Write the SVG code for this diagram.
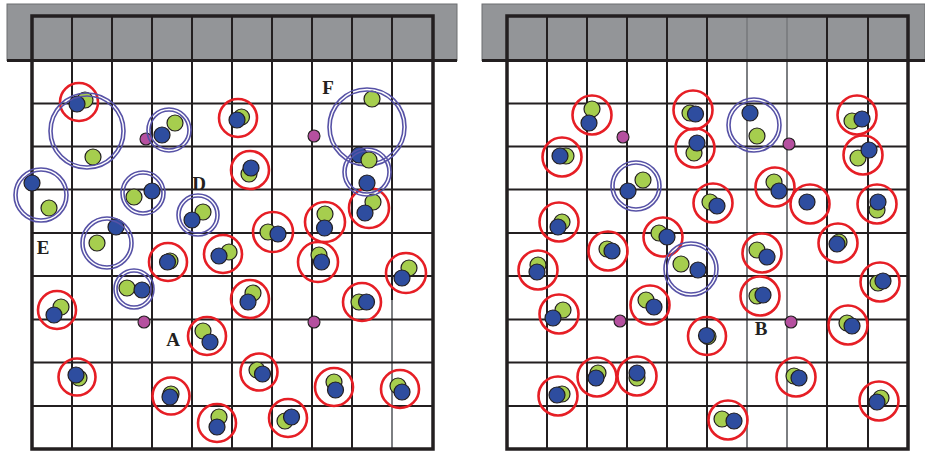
<svg xmlns="http://www.w3.org/2000/svg" width="925" height="451" viewBox="0 0 925 451">
<style>
.bg{fill:#ffffff}
.bar{fill:#939598;stroke:#6d6e71;stroke-width:1}
.grid{stroke:#231f20;stroke-width:2;fill:none}
.lgrid{stroke:#7d7f82;stroke-width:2;fill:none}
.frame{stroke:#231f20;stroke-width:3.5;fill:none}
.g{fill:#a6ce4e;stroke:#231f20;stroke-width:1.2}
.b{fill:#2e4d9f;stroke:#231f20;stroke-width:1.2}
.m{fill:#b5509f;stroke:#231f20;stroke-width:1.1}
.r{fill:none;stroke:#e61e25;stroke-width:2.6}
.d{fill:none;stroke:#5752a6;stroke-width:1.6}
.lbl{font-family:"Liberation Serif","Times New Roman",serif;font-size:19px;font-weight:bold;fill:#231f20;text-anchor:middle}
</style>
<rect class="bg" x="0" y="0" width="925" height="451"/>
<!-- LEFT PANEL -->
<g id="left-panel-grid">
<rect class="bar" x="7" y="4" width="450" height="56.5"/>
<path class="grid" d="M72 16V449M112 16V449M152 16V449M192 16V449M232 16V449M272 16V449M312 16V449M352 16V449"/>
<path class="lgrid" d="M392 300V449"/>
<path class="grid" d="M392 16V300"/>
<path class="grid" d="M32 103.5H433M32 146.5H433M32 189.5H433M32 233H433M32 276H433M32 319.5H433M32 362.5H433M32 406H433"/>
<path class="grid" style="stroke-width:3" d="M7 60.5H457"/>
<rect class="frame" x="32" y="16" width="401" height="433"/>
</g>
<!-- RIGHT PANEL -->
<g id="right-panel-grid">
<rect class="bar" x="482" y="4" width="443" height="56.5"/>
<path class="grid" d="M547 16V449M587 16V449M627 16V449M667 16V449M707 16V449M827 16V449M868 16V449"/>
<path class="lgrid" d="M747 16V449M787 16V449"/>
<path class="grid" d="M507 103.5H908M507 146.5H908M507 189.5H908M507 233H908M507 276H908M507 319.5H908M507 362.5H908M507 406H908"/>
<path class="grid" style="stroke-width:3" d="M482 60.5H925"/>
<rect class="frame" x="507" y="16" width="401" height="433"/>
</g>
<g id="connectors"></g>
<!-- magenta points -->
<g id="magenta-left"><circle class="m" cx="146" cy="139" r="6"/><circle class="m" cx="314" cy="136" r="6"/><circle class="m" cx="144" cy="322" r="6"/><circle class="m" cx="314" cy="322" r="6"/></g>
<g id="magenta-right"><circle class="m" cx="623" cy="137" r="6"/><circle class="m" cx="789" cy="144" r="6"/><circle class="m" cx="620" cy="321" r="6"/><circle class="m" cx="791" cy="322" r="6"/></g>
<!-- left red groups -->
<g id="L1"><circle class="g" cx="85" cy="100" r="8"/><circle class="b" cx="77" cy="104" r="8"/><circle class="r" cx="79" cy="102" r="19"/></g>
<g id="L2"><circle class="g" cx="241.5" cy="117" r="8"/><circle class="b" cx="237" cy="120" r="8"/><circle class="r" cx="238" cy="118" r="19"/></g>
<g id="L3"><circle class="g" cx="249" cy="174" r="8"/><circle class="b" cx="251" cy="168" r="8"/><circle class="r" cx="250" cy="170" r="19"/></g>
<g id="L4"><circle class="g" cx="373" cy="202" r="8"/><circle class="b" cx="365" cy="213" r="8"/><circle class="r" cx="369" cy="208" r="20"/></g>
<g id="L5"><circle class="g" cx="325" cy="214" r="8"/><circle class="b" cx="324.5" cy="228" r="8"/><circle class="r" cx="325" cy="222" r="20"/></g>
<g id="L6"><circle class="g" cx="268" cy="232" r="8"/><circle class="b" cx="278" cy="234" r="8"/><circle class="r" cx="273" cy="232" r="20"/></g>
<g id="L7"><circle class="g" cx="170" cy="261" r="8"/><circle class="b" cx="167.5" cy="262" r="8"/><circle class="r" cx="168" cy="262" r="19"/></g>
<g id="L8"><circle class="g" cx="229" cy="252" r="8"/><circle class="b" cx="219" cy="256" r="8"/><circle class="r" cx="223" cy="254" r="19"/></g>
<g id="L9"><circle class="g" cx="319" cy="255" r="8"/><circle class="b" cx="321.5" cy="262" r="8"/><circle class="r" cx="318" cy="262" r="20"/></g>
<g id="L10"><circle class="g" cx="409" cy="268" r="8"/><circle class="b" cx="402" cy="278" r="8"/><circle class="r" cx="406" cy="273" r="20"/></g>
<g id="L11"><circle class="g" cx="61" cy="307" r="8"/><circle class="b" cx="54" cy="315" r="8"/><circle class="r" cx="57" cy="310" r="19"/></g>
<g id="L12"><circle class="g" cx="253" cy="293" r="8"/><circle class="b" cx="248" cy="302" r="8"/><circle class="r" cx="250" cy="299" r="19"/></g>
<g id="L13"><circle class="g" cx="359" cy="302" r="8"/><circle class="b" cx="366.5" cy="302" r="8"/><circle class="r" cx="362" cy="302" r="19"/></g>
<g id="L14"><circle class="g" cx="203" cy="331" r="8"/><circle class="b" cx="210" cy="342" r="8"/><circle class="r" cx="207" cy="336" r="19"/></g>
<g id="L15"><circle class="g" cx="79" cy="378" r="8"/><circle class="b" cx="76" cy="375" r="8"/><circle class="r" cx="77" cy="377" r="18.5"/></g>
<g id="L16"><circle class="g" cx="257" cy="370" r="8"/><circle class="b" cx="262.5" cy="374" r="8"/><circle class="r" cx="259" cy="372" r="18.5"/></g>
<g id="L17"><circle class="g" cx="334" cy="382" r="8"/><circle class="b" cx="335.5" cy="390" r="8"/><circle class="r" cx="334" cy="387" r="19"/></g>
<g id="L18"><circle class="g" cx="398" cy="386" r="8"/><circle class="b" cx="402" cy="392" r="8"/><circle class="r" cx="400" cy="389" r="19"/></g>
<g id="L19"><circle class="g" cx="171" cy="394" r="8"/><circle class="b" cx="170" cy="397" r="8"/><circle class="r" cx="171" cy="396" r="18.5"/></g>
<g id="L20"><circle class="g" cx="219" cy="417" r="8"/><circle class="b" cx="217" cy="427" r="8"/><circle class="r" cx="217" cy="423" r="19"/></g>
<g id="L21"><circle class="g" cx="285" cy="421" r="8"/><circle class="b" cx="291.5" cy="417" r="8"/><circle class="r" cx="288" cy="418" r="19"/></g>
<!-- left double ring groups -->
<g id="LD1"><circle class="g" cx="93" cy="157" r="8"/><circle class="d" cx="87" cy="131" r="38"/><circle class="d" cx="87" cy="131" r="35"/></g>
<g id="LD2"><circle class="g" cx="175" cy="123" r="8"/><circle class="b" cx="162" cy="135" r="8"/><circle class="d" cx="169" cy="130" r="22"/><circle class="d" cx="169" cy="130" r="19"/></g>
<g id="LD3"><circle class="b" cx="32" cy="183" r="8"/><circle class="g" cx="49" cy="208" r="8"/><circle class="d" cx="41" cy="195" r="27"/><circle class="d" cx="41" cy="195" r="24"/></g>
<g id="LD4"><circle class="g" cx="134" cy="197" r="8"/><circle class="b" cx="152" cy="191" r="8"/><circle class="d" cx="143" cy="193" r="22"/><circle class="d" cx="143" cy="193" r="19"/></g>
<g id="LD5"><circle class="g" cx="203" cy="212" r="8"/><circle class="b" cx="192" cy="220" r="8"/><circle class="d" cx="198" cy="215" r="21"/><circle class="d" cx="198" cy="215" r="18"/></g>
<g id="LD6"><circle class="g" cx="97" cy="243" r="8"/><circle class="b" cx="116" cy="227" r="8"/><circle class="d" cx="107" cy="243" r="26"/><circle class="d" cx="107" cy="243" r="23"/></g>
<g id="LD7"><circle class="g" cx="127" cy="288" r="8"/><circle class="b" cx="142" cy="290" r="8"/><circle class="d" cx="134" cy="289" r="20"/><circle class="d" cx="134" cy="289" r="17"/></g>
<g id="LD8"><circle class="g" cx="372" cy="99" r="8"/><circle class="d" cx="367" cy="127" r="39"/><circle class="d" cx="367" cy="127" r="36"/></g>
<g id="LD9"><circle class="b" cx="359" cy="155" r="8"/><circle class="g" cx="369" cy="160" r="8"/><circle class="b" cx="367" cy="183" r="8"/><circle class="d" cx="367" cy="172" r="24"/><circle class="d" cx="367" cy="172" r="21"/></g>
<!-- right red groups -->
<g id="R1"><circle class="g" cx="592" cy="109" r="8"/><circle class="b" cx="589" cy="123" r="8"/><circle class="r" cx="592" cy="115" r="19.5"/></g>
<g id="R2"><circle class="g" cx="690" cy="113" r="8"/><circle class="b" cx="695.5" cy="114" r="8"/><circle class="r" cx="693" cy="110" r="19.5"/></g>
<g id="R3"><circle class="g" cx="566" cy="156" r="8"/><circle class="b" cx="560" cy="156" r="8"/><circle class="r" cx="562" cy="157" r="19.5"/></g>
<g id="R4"><circle class="g" cx="694" cy="153" r="8"/><circle class="b" cx="697" cy="143" r="8"/><circle class="r" cx="695" cy="148" r="19.5"/></g>
<g id="R5"><circle class="g" cx="852" cy="121" r="8"/><circle class="b" cx="862" cy="119" r="8"/><circle class="r" cx="857" cy="115" r="19.5"/></g>
<g id="R6"><circle class="g" cx="858" cy="158" r="8"/><circle class="b" cx="869" cy="150" r="8"/><circle class="r" cx="863" cy="155" r="19.5"/></g>
<g id="R7"><circle class="g" cx="774" cy="182" r="8"/><circle class="b" cx="779" cy="191" r="8"/><circle class="r" cx="775" cy="187" r="19.5"/></g>
<g id="R8"><circle class="b" cx="807" cy="202" r="8"/><circle class="r" cx="810" cy="204" r="19.5"/></g>
<g id="R9"><circle class="g" cx="710" cy="202" r="8"/><circle class="b" cx="717" cy="206" r="8"/><circle class="r" cx="713" cy="203" r="19.5"/></g>
<g id="R10"><circle class="g" cx="877" cy="210" r="8"/><circle class="b" cx="878" cy="202" r="8"/><circle class="r" cx="877" cy="204" r="19.5"/></g>
<g id="R11"><circle class="g" cx="562" cy="222" r="8"/><circle class="b" cx="558" cy="227" r="8"/><circle class="r" cx="559" cy="222" r="19.5"/></g>
<g id="R12"><circle class="g" cx="607" cy="249" r="8"/><circle class="b" cx="612" cy="251" r="8"/><circle class="r" cx="608" cy="251" r="19.5"/></g>
<g id="R13"><circle class="g" cx="659" cy="233" r="8"/><circle class="b" cx="667" cy="237" r="8"/><circle class="r" cx="663" cy="237" r="19.5"/></g>
<g id="R14"><circle class="g" cx="538" cy="265" r="8"/><circle class="b" cx="537" cy="272" r="8"/><circle class="r" cx="538" cy="270" r="19.5"/></g>
<g id="R15"><circle class="g" cx="563" cy="310" r="8"/><circle class="b" cx="553" cy="318" r="8"/><circle class="r" cx="559" cy="314" r="19.5"/></g>
<g id="R16"><circle class="g" cx="646" cy="300" r="8"/><circle class="b" cx="654" cy="307" r="8"/><circle class="r" cx="650" cy="305" r="19.5"/></g>
<g id="R17"><circle class="g" cx="757" cy="250" r="8"/><circle class="b" cx="767" cy="257" r="8"/><circle class="r" cx="762" cy="253" r="19.5"/></g>
<g id="R18"><circle class="g" cx="839" cy="242" r="8"/><circle class="b" cx="837" cy="244" r="8"/><circle class="r" cx="838" cy="243" r="19.5"/></g>
<g id="R19"><circle class="g" cx="757" cy="296" r="8"/><circle class="b" cx="763" cy="295" r="8"/><circle class="r" cx="760" cy="296" r="19.5"/></g>
<g id="R20"><circle class="g" cx="878" cy="283" r="8"/><circle class="b" cx="883" cy="281" r="8"/><circle class="r" cx="880" cy="282" r="19.5"/></g>
<g id="R21"><circle class="g" cx="708" cy="336.5" r="8"/><circle class="b" cx="706.5" cy="335.5" r="8"/><circle class="r" cx="707" cy="336" r="19"/></g>
<g id="R22"><circle class="g" cx="847" cy="323" r="8"/><circle class="b" cx="852" cy="326" r="8"/><circle class="r" cx="848" cy="325" r="19.5"/></g>
<g id="R23"><circle class="g" cx="598" cy="373" r="8"/><circle class="b" cx="596" cy="378" r="8"/><circle class="r" cx="597" cy="377" r="19.5"/></g>
<g id="R24"><circle class="g" cx="637" cy="378" r="8"/><circle class="b" cx="637" cy="373" r="8"/><circle class="r" cx="637" cy="376" r="19.5"/></g>
<g id="R25"><circle class="g" cx="562" cy="394" r="8"/><circle class="b" cx="557" cy="395" r="8"/><circle class="r" cx="558" cy="396" r="19.5"/></g>
<g id="R26"><circle class="g" cx="794" cy="376" r="8"/><circle class="b" cx="799" cy="378" r="8"/><circle class="r" cx="796" cy="377" r="19.5"/></g>
<g id="R27"><circle class="g" cx="881" cy="398" r="8"/><circle class="b" cx="877" cy="402" r="8"/><circle class="r" cx="879" cy="401" r="19.5"/></g>
<g id="R28"><circle class="g" cx="722" cy="419" r="8"/><circle class="b" cx="734" cy="421" r="8"/><circle class="r" cx="728" cy="420" r="19.5"/></g>
<!-- right double ring groups -->
<g id="RD1"><circle class="g" cx="643" cy="180" r="8"/><circle class="b" cx="628" cy="191" r="8"/><circle class="d" cx="636" cy="186" r="25"/><circle class="d" cx="636" cy="186" r="22"/></g>
<g id="RD2"><circle class="b" cx="750" cy="113" r="8"/><circle class="g" cx="757" cy="136" r="8"/><circle class="d" cx="754" cy="125" r="27"/><circle class="d" cx="754" cy="125" r="24"/></g>
<g id="RD3"><circle class="g" cx="681" cy="264" r="8"/><circle class="b" cx="698" cy="270" r="8"/><circle class="d" cx="691" cy="269" r="27"/><circle class="d" cx="691" cy="269" r="24"/></g>
<!-- labels -->
<g id="labels">
<text class="lbl" x="199" y="189.5">D</text>
<text class="lbl" x="43" y="253.5">E</text>
<text class="lbl" x="328" y="93.5">F</text>
<text class="lbl" x="173" y="345.5">A</text>
<text class="lbl" x="761" y="334.5">B</text>
</g>
</svg>
